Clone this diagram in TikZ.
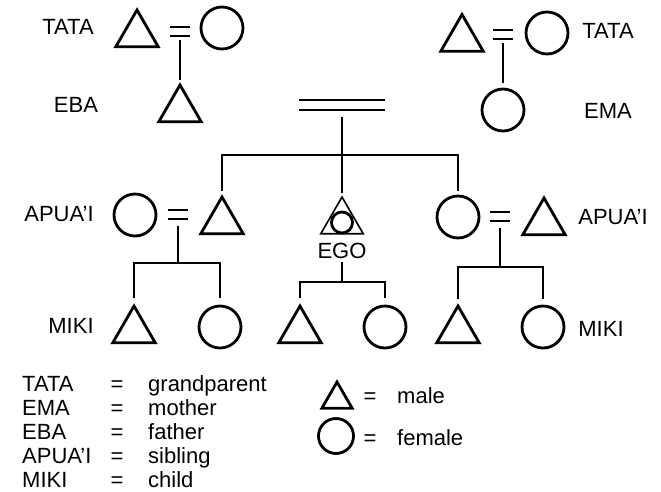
\documentclass[tikz,border=0pt]{standalone}
\usepackage{fontspec}
\setmainfont{Liberation Sans}
\usetikzlibrary{shapes.geometric,calc}
\begin{document}
\begin{tikzpicture}[x=1pt,y=-1pt,
  male/.style={draw,line width=2.8pt,regular polygon,regular polygon sides=3,
    minimum size=49pt,inner sep=0pt,outer sep=0pt},
  female/.style={draw,line width=2.8pt,circle,minimum size=42pt,inner sep=0pt,outer sep=0pt},
  smallmale/.style={male,minimum size=35pt},
  smallfemale/.style={female,minimum size=35pt},
  link/.style={line width=1.7pt},
  eqsign/.style={inner sep=0pt,outer sep=0pt,minimum width=20pt,minimum height=9pt},
  kin/.style={font=\fontsize{22}{26}\selectfont,inner sep=0pt,anchor=base},
  kinw/.style={kin,anchor=base west}]
\useasboundingbox (0,0) rectangle (661,491);

% --- grandparents and parents
\node[male]   (gfL) at (137,34.5) {};
\node[female] (gmL) at (222,28) {};
\node[eqsign] (m1)  at (180,31.5) {};
\node[male]   (eba) at (180,109.5) {};

\node[male]   (gfR) at (462,39) {};
\node[female] (gmR) at (547,33) {};
\node[eqsign] (m2)  at (503,34) {};
\node[female] (ema) at (503,110) {};

\node[eqsign,minimum width=86pt,minimum height=10pt] (dl) at (342,105) {};

% --- siblings and spouses
\node[female] (sisL) at (135,215) {};
\node[male]   (broL) at (222,221.5) {};
\node[eqsign] (m3)   at (178,214.5) {};

\node[male,line width=1.6pt] (ego) at (342,221.5) {};
\node[female,minimum size=21pt] (egoc) at (342,222.5) {};
\node[kin,anchor=center] (egol) at (342,251) {EGO};

\node[female] (sisR) at (458,217) {};
\node[male]   (broR) at (544,222.5) {};
\node[eqsign] (m4)   at (500,216.5) {};

% --- children
\node[male]   (k1) at (134,330.5) {};
\node[female] (k2) at (220,327) {};
\node[male]   (k3) at (300,330.5) {};
\node[female] (k4) at (385,327) {};
\node[male]   (k5) at (458,330.5) {};
\node[female] (k6) at (543,327) {};

% --- marriage signs
\foreach \m in {m1,m2,m3,m4,dl}
  \draw[line width=2pt] (\m.north west) -- (\m.north east) (\m.south west) -- (\m.south east);

% --- descent lines
\coordinate (bar) at (342,155);
\coordinate (f1) at (178,263);
\coordinate (f2) at (342,282);
\coordinate (f3) at (500,267);

\draw[link,shorten <=4pt,shorten >=5pt] (m1.south) -- (eba.north);
\draw[link,shorten <=4pt,shorten >=6pt] (m2.south) -- (ema.north);
\draw[link,shorten <=7pt,shorten >=4pt] (dl.south) -- (ego.north);
\draw[link,shorten >=6pt] (bar) -| (broL.north);
\draw[link,shorten >=5pt] (bar) -| (sisR.north);

\draw[link,shorten <=7pt] (m3.south) -- (f1);
\draw[link,shorten >=8pt] (f1) -| (k1.north);
\draw[link,shorten >=8pt] (f1) -| (k2.north);

\draw[link,shorten <=3pt] (egol.south) -- (f2);
\draw[link,shorten >=8pt] (f2) -| (k3.north);
\draw[link,shorten >=8pt] (f2) -| (k4.north);

\draw[link,shorten <=7pt] (m4.south) -- (f3);
\draw[link,shorten >=7pt] (f3) -| (k5.north);
\draw[link,shorten >=7pt] (f3) -| (k6.north);

% --- kin terms
\node[kin] (tL) at (68,34)   {TATA};
\node[kin] (eb) at (76,112)  {EBA};
\node[kin] (tR) at (608,38)  {TATA};
\node[kin] (em) at (608,118) {EMA};
\node[kin] (aL) at (59,221)  {APUA'I};
\node[kin] (aR) at (613,224) {APUA'I};
\node[kin] (mL) at (71,333)  {MIKI};
\node[kin] (mR) at (601,336) {MIKI};

% --- key
\foreach \t/\d/\y [count=\i] in {TATA/grandparent/391, EMA/mother/415, EBA/father/439,
    APUA'I/sibling/463, MIKI/child/487} {
  \node[kinw] (kt\i) at (22,\y) {\t};
  \node[kin]  (ke\i) at (117,\y) {=};
  \node[kinw] (kd\i) at (148,\y) {\d};
}
\node[smallmale]   (lm) at (337,399.5) {};
\node[smallfemale] (lf) at (336,436) {};
\node[kin]  (lme) at (370,403) {=};
\node[kin]  (lfe) at (370,445) {=};
\node[kinw] (lmt) at (397,403) {male};
\node[kinw] (lft) at (397,445) {female};
\end{tikzpicture}
\end{document}
